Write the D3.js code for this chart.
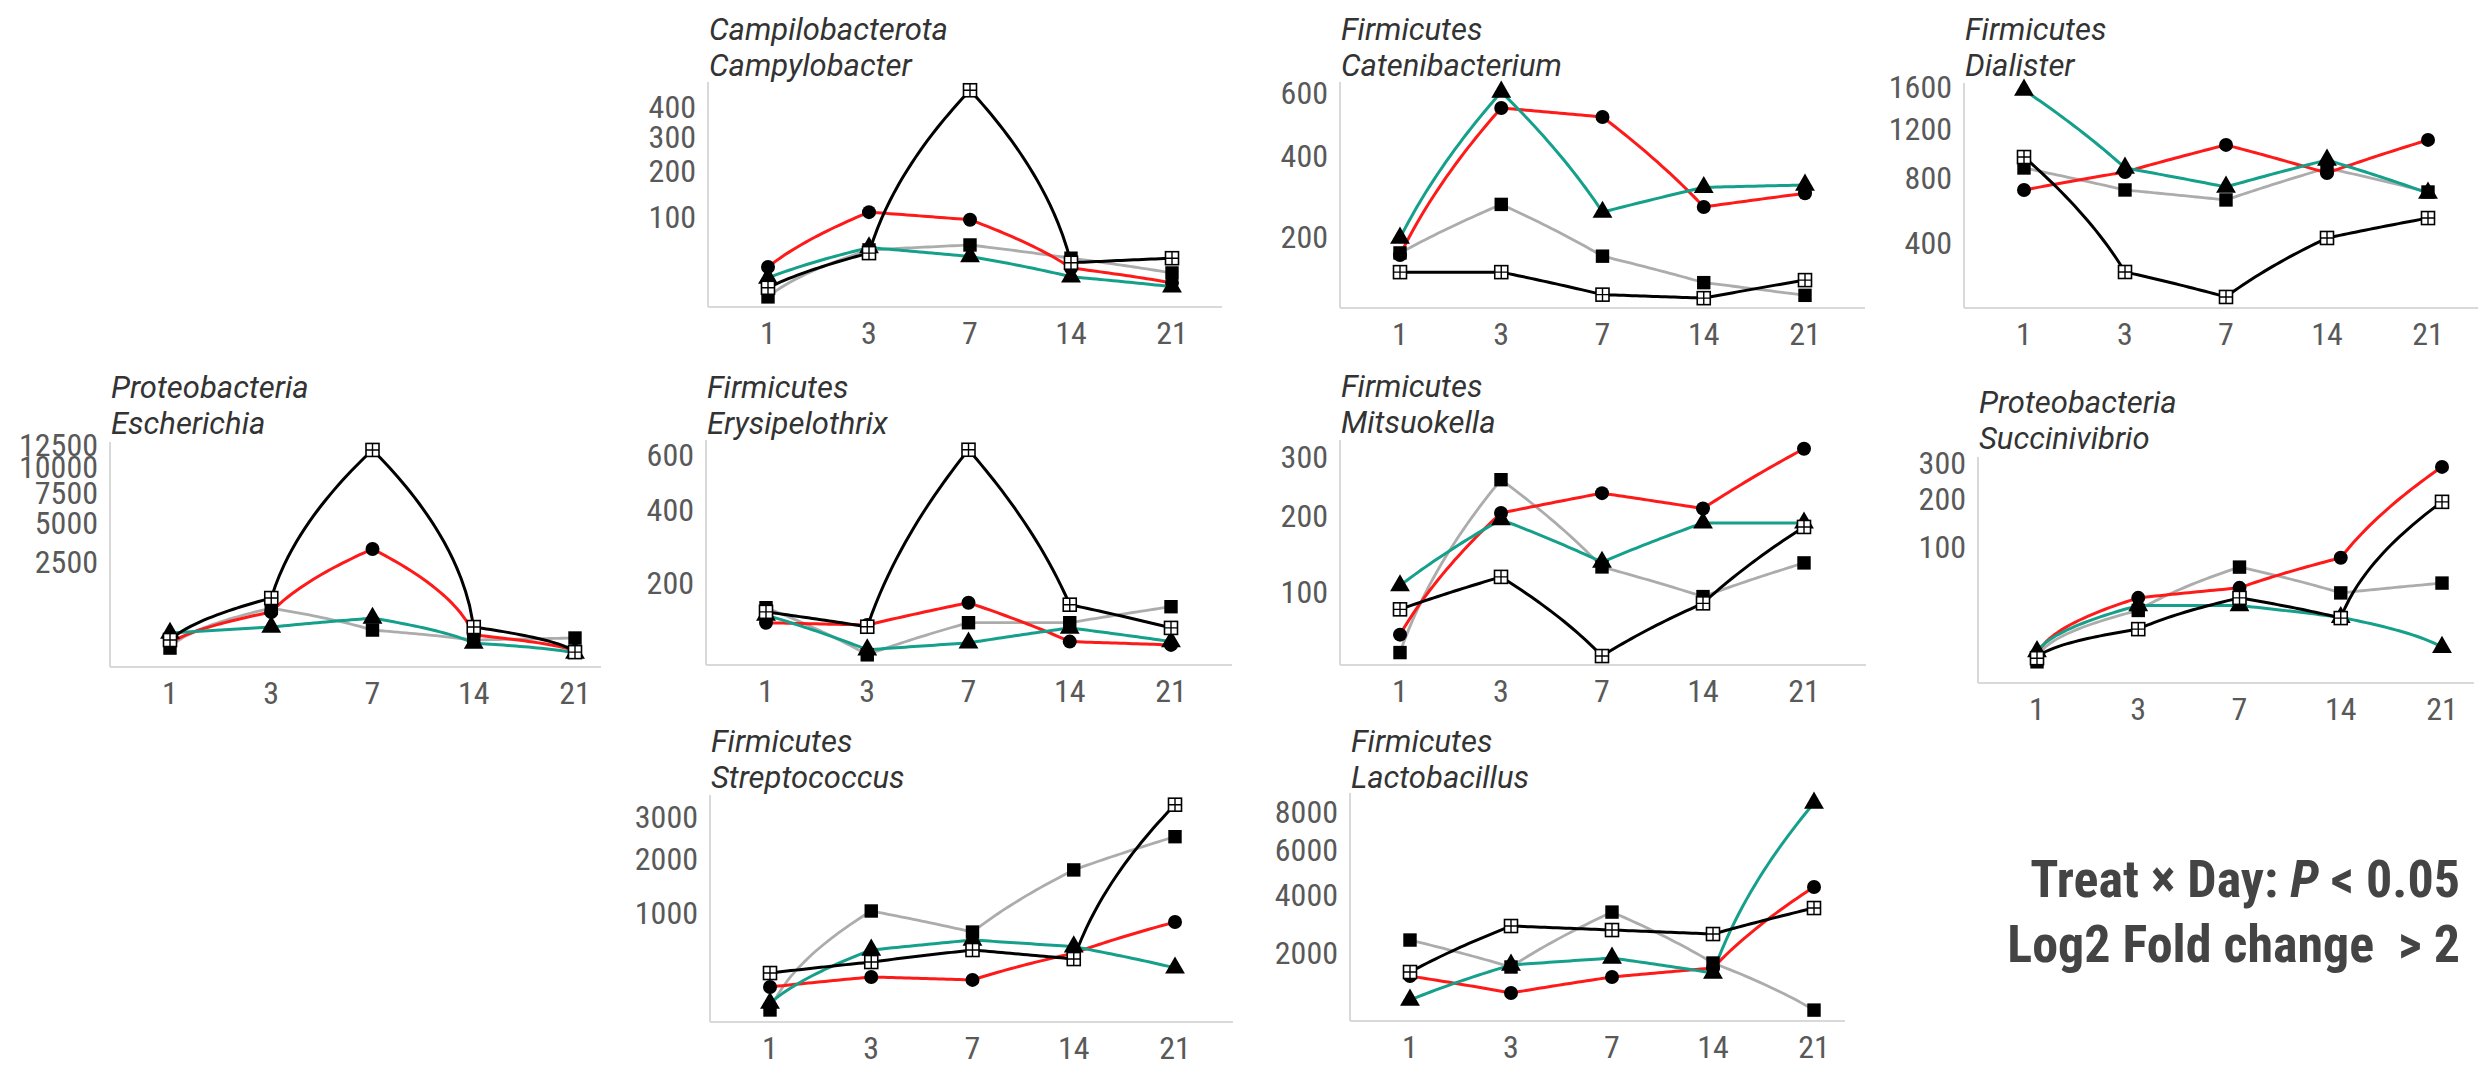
<!DOCTYPE html>
<html><head>
<meta charset="utf-8">
<title>Genus abundance by day</title>
<script src="https://d3js.org/d3.v7.min.js"></script>
<style>
  body { margin: 0; background: #fff; }
  svg text { font-family: 'Roboto Condensed', 'Liberation Sans Narrow', 'Roboto', sans-serif; }
  svg text.title { font-family: 'Roboto', sans-serif; font-style: italic; fill: #333; font-size: 31px; }
  .tick-label { fill: #595959; }
  .axis-line { stroke: #d9d9d9; stroke-width: 2; }
  .note { font-weight: bold; fill: #444; font-size: 52px; }
</style>
</head>
<body>
<svg id="chart" width="2484" height="1067"></svg>
<script>
// x categories (days) and the four treatment groups
const days = ["1", "3", "7", "14", "21"];
const groups = ["G1", "G2", "G3", "G4"];

// values per genus: one row per group, one value per day
const campylobacter = [
  [7.4, 49, 55.5, 39, 24],
  [29.7, 109, 95, 28.7, 16],
  [19.8, 52, 41, 20.7, 13.3],
  [12.6, 45, 464, 34, 39]
];
const catenibacterium = [
  [169, 272, 163, 118, 99],
  [165, 549, 519, 266, 299],
  [198, 604, 254, 314, 320],
  [135, 135, 100, 95, 122]
];
const dialister = [
  [877, 718, 651, 877, 704],
  [718, 847, 1061, 839, 1103],
  [1569, 877, 739, 939, 697],
  [962, 265, 171, 426, 538]
];
const escherichia = [
  [21, 660, 199, 78, 98],
  [52, 557, 3238, 132, 10],
  [156, 246, 416, 52, 4],
  [78, 961, 11925, 246, 6]
];
const erysipelothrix = [
  [147, 69, 119, 119, 149],
  [119, 115, 157, 88, 83],
  [133, 76, 86, 110, 88],
  [139, 112, 621, 153, 110]
];
const mitsuokella = [
  [45, 259, 129, 95, 134],
  [59, 204, 236, 211, 316],
  [107, 194, 135, 189, 189],
  [82, 117, 42.5, 88, 183]
];
const succinivibrio = [
  [0, 20, 68, 36, 47],
  [0.3, 31, 41.5, 82, 288],
  [0.8, 24, 24, 15, 1.6],
  [0.1, 8.1, 31, 14.5, 194]
];
const streptococcus = [
  [68, 1030, 730, 1763, 2500],
  [190, 262, 240, 481, 866],
  [98, 515, 630, 552, 338],
  [294, 392, 515, 421, 3330]
];
const lactobacillus = [
  [2385, 1623, 3330, 1726, 708],
  [1400, 1026, 1377, 1597, 4311],
  [888, 1674, 1860, 1473, 8520],
  [1497, 2839, 2705, 2575, 3480]
];

// y tick labels per panel
const campyTicks = [100, 200, 300, 400];
const cateniTicks = [200, 400, 600];
const dialTicks = [400, 800, 1200, 1600];
const eschTicks = [2500, 5000, 7500, 10000, 12500];
const erysTicks = [200, 400, 600];
const mitsuTicks = [100, 200, 300];
const succTicks = [100, 200, 300];
const strepTicks = [1000, 2000, 3000];
const lactoTicks = [2000, 4000, 6000, 8000];

const note1 = ["Treat \u00d7 Day: ", "P", " < 0.05"];
const note2 = "Log2 Fold change  > 2";

// panel placement (the composite is not a strict grid)
const panels = [
  { phylum: "Campilobacterota", genus: "Campylobacter", vals: campylobacter, ticks: campyTicks,
    left: 708, right: 1222, top: 82, bottom: 307, x0: 768, x1: 1172, yDom: [3.24, 497], t1: 40 },
  { phylum: "Firmicutes", genus: "Catenibacterium", vals: catenibacterium, ticks: cateniTicks,
    left: 1340, right: 1865, top: 82, bottom: 308, x0: 1400, x1: 1805, yDom: [81.7, 640], t1: 40 },
  { phylum: "Firmicutes", genus: "Dialister", vals: dialister, ticks: dialTicks,
    left: 1964, right: 2478, top: 83, bottom: 308, x0: 2024, x1: 2428, yDom: [136, 1641], t1: 40 },
  { phylum: "Proteobacteria", genus: "Escherichia", vals: escherichia, ticks: eschTicks,
    left: 110, right: 601, top: 442, bottom: 667, x0: 170, x1: 575, yDom: [-29.2, 12860], t1: 398 },
  { phylum: "Firmicutes", genus: "Erysipelothrix", vals: erysipelothrix, ticks: erysTicks,
    left: 706, right: 1232, top: 440, bottom: 665, x0: 766, x1: 1171, yDom: [56, 661], t1: 398 },
  { phylum: "Firmicutes", genus: "Mitsuokella", vals: mitsuokella, ticks: mitsuTicks,
    left: 1340, right: 1866, top: 440, bottom: 665, x0: 1400, x1: 1804, yDom: [36.4, 333], t1: 397 },
  { phylum: "Proteobacteria", genus: "Succinivibrio", vals: succinivibrio, ticks: succTicks,
    left: 1978, right: 2474, top: 457, bottom: 683, x0: 2037, x1: 2442, yDom: [-3.4, 318], t1: 413 },
  { phylum: "Firmicutes", genus: "Streptococcus", vals: streptococcus, ticks: strepTicks,
    left: 710, right: 1233, top: 795, bottom: 1022, x0: 770, x1: 1175, yDom: [28.6, 3605], t1: 752 },
  { phylum: "Firmicutes", genus: "Lactobacillus", vals: lactobacillus, ticks: lactoTicks,
    left: 1350, right: 1845, top: 793, bottom: 1021, x0: 1410, x1: 1814, yDom: [536, 9118], t1: 752 }
];

// group styles: line colour + marker
const lineColor = d3.scaleOrdinal().domain(groups).range(["#acacac", "#ff1a1a", "#14a08a", "#000000"]);
const lineWidth = d3.scaleOrdinal().domain(groups).range([2.8, 3, 3, 3]);
const markerType = d3.scaleOrdinal().domain(groups).range(["square", "circle", "triangle", "boxplus"]);

const svg = d3.select("#chart");

panels.forEach(p => {
  const g = svg.append("g");
  const x = d3.scalePoint().domain(days).range([p.x0, p.x1]);
  const y = d3.scaleSqrt().domain(p.yDom).range([p.bottom, p.top]);

  // axes: just thin grey lines, no ticks
  g.append("line").attr("class", "axis-line")
    .attr("x1", p.left).attr("x2", p.left).attr("y1", p.top).attr("y2", p.bottom);
  g.append("line").attr("class", "axis-line")
    .attr("x1", p.left).attr("x2", p.right).attr("y1", p.bottom).attr("y2", p.bottom);

  g.selectAll(".ylab").data(p.ticks).join("text")
    .attr("class", "tick-label")
    .attr("x", p.left - 12)
    .attr("y", d => y(d))
    .attr("text-anchor", "end")
    .attr("dominant-baseline", "central")
    .style("font-size", "32px")
    .text(d => d);

  g.selectAll(".xlab").data(days).join("text")
    .attr("class", "tick-label")
    .attr("x", d => x(d))
    .attr("y", p.bottom + 37)
    .attr("text-anchor", "middle")
    .style("font-size", "32px")
    .text(d => d);

  // titles
  g.append("text").attr("class", "title").attr("x", p.left + 1).attr("y", p.t1).text(p.phylum);
  g.append("text").attr("class", "title").attr("x", p.left + 1).attr("y", p.t1 + 36).text(p.genus);

  // lines are straight in data space, then sqrt-transformed (like coord_trans)
  const line = d3.line();
  groups.forEach((grp, gi) => {
    const v = p.vals[gi];
    const pts = [];
    for (let i = 0; i < days.length - 1; i++) {
      const xa = x(days[i]), xb = x(days[i + 1]);
      for (let k = 0; k <= 24; k++) {
        const t = k / 24;
        pts.push([xa + (xb - xa) * t, y(v[i] + (v[i + 1] - v[i]) * t)]);
      }
    }
    g.append("path")
      .attr("d", line(pts))
      .attr("fill", "none")
      .attr("stroke", lineColor(grp))
      .attr("stroke-width", lineWidth(grp))
      .attr("stroke-linejoin", "round");
  });

  // points on top
  groups.forEach((grp, gi) => {
    const v = p.vals[gi];
    const type = markerType(grp);
    days.forEach((d, i) => {
      const cx = x(d), cy = y(v[i]);
      if (type === "circle") {
        g.append("circle").attr("cx", cx).attr("cy", cy).attr("r", 7).attr("fill", "#000");
      } else if (type === "square") {
        g.append("path").attr("transform", `translate(${cx},${cy})`)
          .attr("d", d3.symbol(d3.symbolSquare, 180)()).attr("fill", "#000");
      } else if (type === "triangle") {
        g.append("path").attr("transform", `translate(${cx},${cy})`)
          .attr("d", d3.symbol(d3.symbolTriangle, 170)()).attr("fill", "#000");
      } else {
        const s = 6.5;
        g.append("rect").attr("x", cx - s).attr("y", cy - s).attr("width", 2 * s).attr("height", 2 * s)
          .attr("fill", "#fff").attr("stroke", "#000").attr("stroke-width", 1.6);
        g.append("path").attr("d", `M${cx - s},${cy}H${cx + s}M${cx},${cy - s}V${cy + s}`)
          .attr("stroke", "#000").attr("stroke-width", 1.4);
      }
    });
  });
});

// significance note
const n1 = svg.append("text").attr("class", "note").attr("x", 2460).attr("y", 897).attr("text-anchor", "end");
n1.append("tspan").text(note1[0]);
n1.append("tspan").style("font-style", "italic").text(note1[1]);
n1.append("tspan").text(note1[2]);
svg.append("text").attr("class", "note").attr("x", 2460).attr("y", 962).attr("text-anchor", "end")
  .attr("xml:space", "preserve").style("white-space", "pre").text(note2);
</script>
</body>
</html>
